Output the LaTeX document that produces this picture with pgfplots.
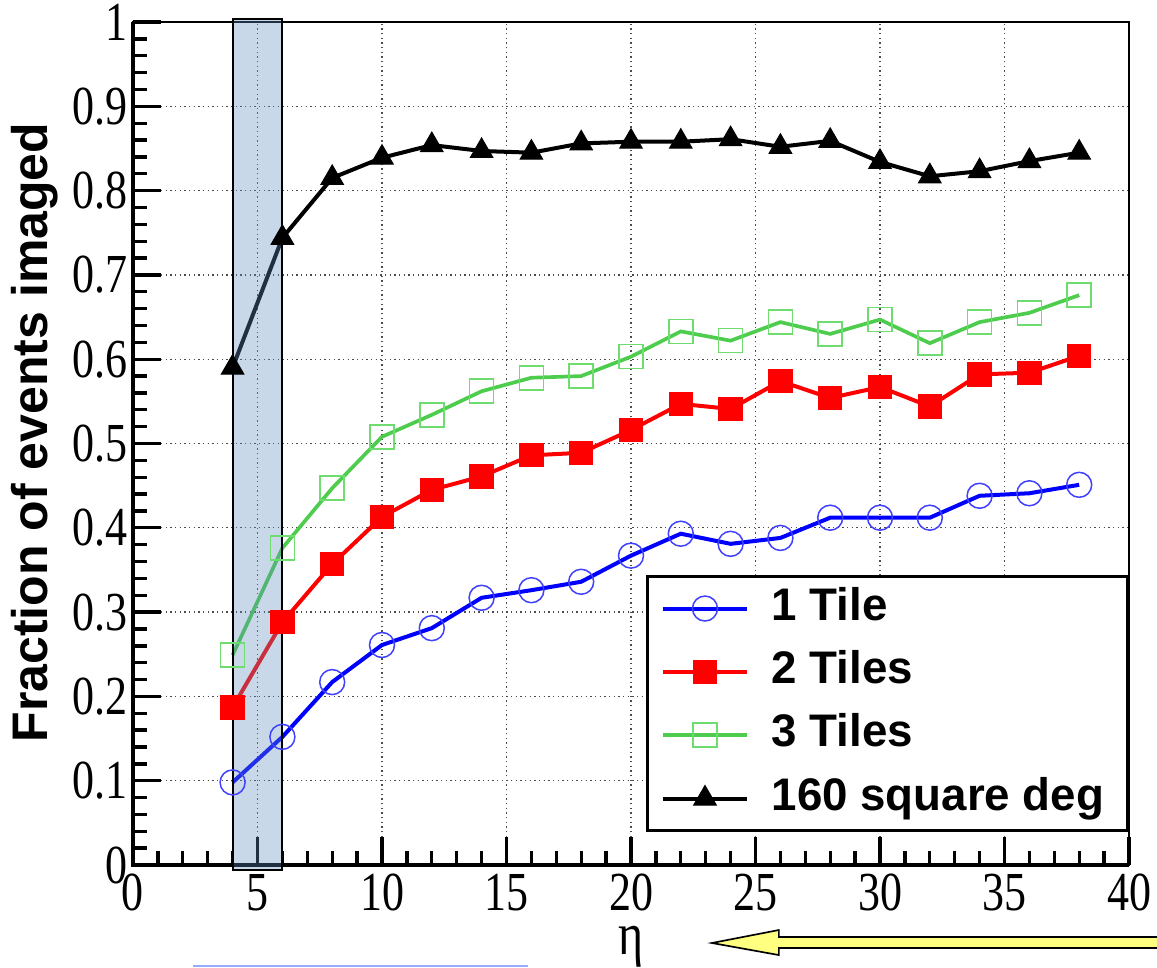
\documentclass[border=0pt]{standalone}
\usepackage{pgfplots}
\pgfplotsset{compat=1.18}
\usepackage{fontspec}
\setmainfont{Liberation Serif}
\newfontfamily\arialfont{Liberation Sans}
\newfontfamily\tickfont[FakeStretch=0.8]{Liberation Serif}
\definecolor{rectblue}{RGB}{94,141,188}
\definecolor{lgreen}{RGB}{77,204,77}
\definecolor{mgreen}{RGB}{110,220,110}
\definecolor{arrowyellow}{RGB}{255,255,128}
\definecolor{lineblue}{RGB}{150,170,255}
\begin{document}
\begin{tikzpicture}
\path[use as bounding box] (-39.9pt,-30.6pt) rectangle (307.2pt,259.5pt);
\begin{axis}[
  scale only axis,
  width=298.8pt, height=252.9pt,
  xmin=0, xmax=40, ymin=0, ymax=1,
  clip=false,
  xtick={0,5,...,40},
  ytick={0,0.1,0.2,0.3,0.4,0.5,0.6,0.7,0.8,0.9,1},
  yticklabels={0,0.1,0.2,0.3,0.4,0.5,0.6,0.7,0.8,0.9,1},
  minor x tick num=4,
  minor y tick num=4,
  tick pos=left,
  tick align=inside,
  major tick length=8.4pt,
  minor tick length=4.2pt,
  major tick style={line width=1pt, black},
  minor tick style={line width=1pt, black},
  axis line style={line width=0.5pt},
  xmajorgrids, ymajorgrids,
  grid style={densely dotted, black!70, line width=0.4pt},
  /pgf/number format/assume math mode=true,
  tick label style={font=\tickfont\fontsize{16.5}{16.5}\selectfont},
  xticklabel style={inner sep=2.5pt},
  yticklabel style={inner sep=1.5pt},
  xlabel={η},
  ylabel={Fraction of events imaged},
  every axis x label/.style={at={(axis description cs:0.5,-0.097)}, anchor=center, font=\tickfont\fontsize{18}{18}\selectfont},
  every axis y label/.style={at={(axis description cs:-0.0984,0.513)}, rotate=90, anchor=center, font=\arialfont\bfseries\fontsize{15}{15}\selectfont},
  legend style={at={(1,0)}, anchor=south east, yshift=10pt, draw=black, line width=0.9pt, inner ysep=0pt, inner xsep=4pt,
    font=\arialfont\bfseries\fontsize{13.7}{13.7}\selectfont,
    nodes={text height=10pt, text depth=3pt, inner sep=3pt},
    row sep=0pt},
  legend cell align=left,
  legend image code/.code={\draw[mark repeat=2,mark phase=2] plot coordinates {(0pt,0pt) (12.5pt,0pt) (25pt,0pt)};},
  /tikz/every odd column/.append style={column sep=3.9pt},
]
\addplot[blue, line width=1.2pt, mark=o, mark size=3.75pt, mark options={line width=0.45pt, draw=blue!75}] coordinates {
(4,0.098) (6,0.152) (8,0.217) (10,0.261) (12,0.281) (14,0.317) (16,0.326) (18,0.336) (20,0.367)
(22,0.393) (24,0.381) (26,0.388) (28,0.412) (30,0.412) (32,0.412) (34,0.438) (36,0.441) (38,0.451)};
\addlegendentry{1 Tile}
\addplot[red, line width=1.2pt, mark=square*, mark size=3.5pt, mark options={line width=0.3pt, fill=red}] coordinates {
(4,0.187) (6,0.288) (8,0.357) (10,0.413) (12,0.445) (14,0.461) (16,0.486) (18,0.489) (20,0.516)
(22,0.547) (24,0.541) (26,0.574) (28,0.554) (30,0.567) (32,0.544) (34,0.582) (36,0.584) (38,0.604)};
\addlegendentry{2 Tiles}
\addplot[lgreen, line width=1.1pt, mark=square, mark size=3.6pt, mark options={line width=0.45pt, draw=mgreen}] coordinates {
(4,0.249) (6,0.376) (8,0.447) (10,0.508) (12,0.534) (14,0.562) (16,0.578) (18,0.580) (20,0.603)
(22,0.633) (24,0.622) (26,0.644) (28,0.630) (30,0.647) (32,0.619) (34,0.644) (36,0.655) (38,0.676)};
\addlegendentry{3 Tiles}
\addplot[black, line width=1.2pt, mark=triangle*, mark size=3.9pt, mark options={line width=0.3pt, fill=black}] coordinates {
(4,0.590) (6,0.744) (8,0.815) (10,0.839) (12,0.854) (14,0.847) (16,0.845) (18,0.856) (20,0.858)
(22,0.858) (24,0.861) (26,0.852) (28,0.859) (30,0.834) (32,0.817) (34,0.823) (36,0.835) (38,0.845)};
\addlegendentry{160 square deg}
\draw[line width=1pt, black] (rel axis cs:0,1) -- (rel axis cs:0,0) -- (rel axis cs:1,0);
\draw[line width=0.6pt, draw=black, fill=rectblue, fill opacity=0.34] (axis cs:4,-0.006) rectangle (axis cs:6,1.004);
\draw[line width=0.5pt, draw=black, fill=arrowyellow] (axis cs:23.25,-0.0925) -- (axis cs:25.94,-0.0771) -- (axis cs:25.94,-0.0854) -- (axis cs:41.3,-0.0854) -- (axis cs:41.3,-0.0985) -- (axis cs:25.94,-0.0985) -- (axis cs:25.94,-0.1068) -- cycle;
\draw[line width=0.6pt, lineblue] (axis cs:2.41,-0.1195) -- (axis cs:15.86,-0.1195);
\end{axis}
\end{tikzpicture}
\end{document}
